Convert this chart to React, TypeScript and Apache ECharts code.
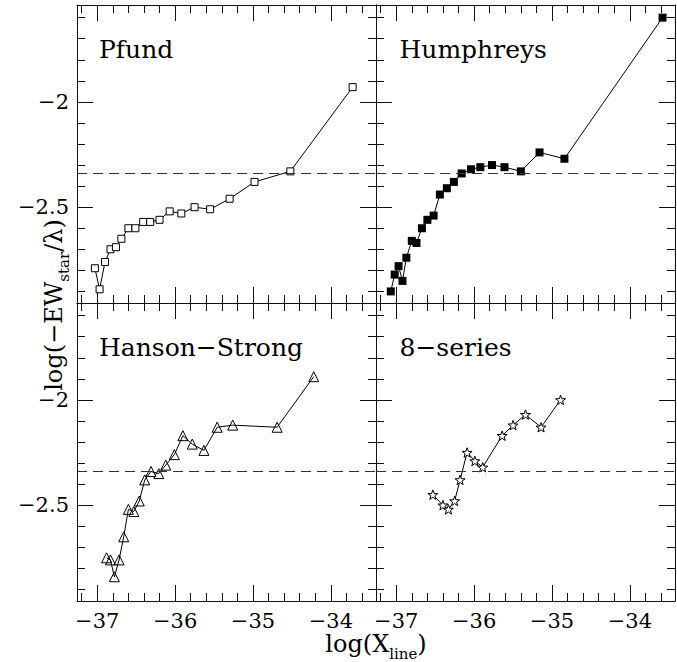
import React, { useEffect, useRef } from "react";
import * as echarts from "echarts";

// ---- data ----
const panelNames = ["Pfund", "Humphreys", "Hanson\u2212Strong", "8\u2212series"];

const pfundX = [-37.03, -36.97, -36.9, -36.83, -36.76, -36.69, -36.6, -36.51, -36.41, -36.32, -36.2, -36.07, -35.92, -35.75, -35.55, -35.3, -34.98, -34.52, -33.72];
const pfundY = [-2.79, -2.89, -2.76, -2.7, -2.69, -2.65, -2.6, -2.6, -2.57, -2.57, -2.56, -2.52, -2.53, -2.5, -2.51, -2.46, -2.38, -2.33, -1.93];

const humphreysX = [-37.07, -37.02, -36.97, -36.92, -36.87, -36.8, -36.74, -36.67, -36.6, -36.52, -36.44, -36.35, -36.26, -36.16, -36.04, -35.92, -35.77, -35.61, -35.4, -35.16, -34.84, -33.58];
const humphreysY = [-2.9, -2.82, -2.78, -2.85, -2.74, -2.66, -2.67, -2.6, -2.56, -2.54, -2.44, -2.41, -2.38, -2.34, -2.32, -2.31, -2.3, -2.31, -2.33, -2.24, -2.27, -1.6];

const hansonX = [-36.88, -36.83, -36.78, -36.72, -36.66, -36.6, -36.53, -36.46, -36.39, -36.31, -36.21, -36.12, -36.01, -35.9, -35.78, -35.63, -35.46, -35.26, -34.69, -34.22];
const hansonY = [-2.75, -2.76, -2.84, -2.76, -2.65, -2.52, -2.53, -2.48, -2.38, -2.34, -2.35, -2.31, -2.26, -2.17, -2.21, -2.24, -2.13, -2.12, -2.13, -1.89];

const eightX = [-36.53, -36.4, -36.33, -36.25, -36.18, -36.09, -35.99, -35.89, -35.64, -35.5, -35.34, -35.14, -34.89];
const eightY = [-2.45, -2.5, -2.52, -2.48, -2.38, -2.25, -2.29, -2.32, -2.17, -2.12, -2.07, -2.13, -2.0];

const referenceLevel = -2.34;

const xMajorTicks = [-37, -36, -35, -34];
const yMajorTicks = [-2.5, -2];
const xMin = -37.26;
const xMax = -33.42;
const yMin = -2.955;
const yMax = -1.54;

const xMinorTicks: number[] = [];
for (let i = -186; i <= -168; i++) {
  if (i % 5 !== 0) xMinorTicks.push(Math.round(i * 2) / 10);
}
const yMinorTicks: number[] = [];
for (let i = -29; i <= -16; i++) {
  if (i % 5 !== 0) yMinorTicks.push(i / 10);
}

const panelData = [
  { x: pfundX, y: pfundY },
  { x: humphreysX, y: humphreysY },
  { x: hansonX, y: hansonY },
  { x: eightX, y: eightY },
];

const STAR =
  "path://M100,0 L123.5,67.6 L195.1,69.1 L138,112.4 L158.8,180.9 L100,140 L41.2,180.9 L62,112.4 L4.9,69.1 L76.5,67.6 Z";

const FONT = '"DejaVu Serif", "Liberation Serif", serif';
const INK = "#111";

const fmt = (v: number) => (v < 0 ? "\u2212" + String(Math.abs(v)) : String(v));

export default function App() {
  const ref = useRef<HTMLDivElement>(null);

  useEffect(() => {
    if (!ref.current) return;
    const chart = echarts.init(ref.current, undefined, { renderer: "svg" });

    const grids = [
      { left: 77, top: 5, width: 299, height: 298 },
      { left: 376, top: 5, width: 299, height: 298 },
      { left: 77, top: 303, width: 299, height: 298 },
      { left: 376, top: 303, width: 299, height: 298 },
    ];

    const xAxes: any[] = [];
    const yAxes: any[] = [];

    grids.forEach((_, g) => {
      const showX = g >= 2;
      const showY = g % 2 === 0;
      const mkX = (position: string, major: boolean, labels: boolean) => ({
        type: "value",
        gridIndex: g,
        position,
        min: xMin,
        max: xMax,
        axisLine: { show: major, onZero: false, lineStyle: { color: INK, width: 1 } },
        axisTick: {
          show: true,
          inside: true,
          length: major ? 16 : 8,
          customValues: major ? xMajorTicks : xMinorTicks,
          lineStyle: { color: INK, width: 1 },
        },
        axisLabel: {
          show: labels,
          customValues: xMajorTicks,
          formatter: fmt,
          fontFamily: FONT,
          fontSize: 21,
          color: "#000",
          margin: 9,
        },
        splitLine: { show: false },
      });
      const mkY = (position: string, major: boolean, labels: boolean) => ({
        type: "value",
        gridIndex: g,
        position,
        min: yMin,
        max: yMax,
        axisLine: { show: major, onZero: false, lineStyle: { color: INK, width: 1 } },
        axisTick: {
          show: true,
          inside: true,
          length: major ? 16 : 8,
          customValues: major ? yMajorTicks : yMinorTicks,
          lineStyle: { color: INK, width: 1 },
        },
        axisLabel: {
          show: labels,
          customValues: yMajorTicks,
          formatter: fmt,
          fontFamily: FONT,
          fontSize: 21,
          color: "#000",
          margin: 8,
        },
        splitLine: { show: false },
      });
      xAxes.push(mkX("bottom", true, showX));
      xAxes.push(mkX("bottom", false, false));
      xAxes.push(mkX("top", true, false));
      xAxes.push(mkX("top", false, false));
      yAxes.push(mkY("left", true, showY));
      yAxes.push(mkY("left", false, false));
      yAxes.push(mkY("right", true, false));
      yAxes.push(mkY("right", false, false));
    });

    const symbolStyles = [
      { symbol: "rect", symbolSize: 7, itemStyle: { color: "#fff", borderColor: "#000", borderWidth: 1 } },
      { symbol: "rect", symbolSize: 8, itemStyle: { color: "#000", borderColor: "#000", borderWidth: 0 } },
      { symbol: "triangle", symbolSize: 10, itemStyle: { color: "rgba(255,255,255,0)", borderColor: "#000", borderWidth: 1 } },
      { symbol: STAR, symbolSize: 10, itemStyle: { color: "#fff", borderColor: "#000", borderWidth: 1 } },
    ];

    const series = panelData.map((p, g) => ({
      type: "line",
      name: panelNames[g],
      xAxisIndex: g * 4,
      yAxisIndex: g * 4,
      data: p.x.map((xv, i) => [xv, p.y[i]]),
      symbol: symbolStyles[g].symbol,
      symbolSize: symbolStyles[g].symbolSize,
      symbolKeepAspect: true,
      showAllSymbol: true,
      itemStyle: symbolStyles[g].itemStyle,
      lineStyle: { color: "#000", width: 1 },
      markLine: {
        silent: true,
        symbol: ["none", "none"],
        label: { show: false },
        lineStyle: { color: "#333", width: 1, type: [10, 6] },
        data: [{ yAxis: referenceLevel }],
      },
      z: 3,
    }));

    const labelPos = [
      { x: 99, y: 49.5 },
      { x: 399.5, y: 49.5 },
      { x: 99, y: 347.5 },
      { x: 399.5, y: 347.5 },
    ];

    const graphic: any[] = panelNames.map((name, g) => ({
      type: "text",
      x: labelPos[g].x,
      y: labelPos[g].y,
      silent: true,
      style: {
        text: name,
        font: `25px ${FONT}`,
        fill: "#000",
        align: "left",
        verticalAlign: "middle",
      },
    }));

    graphic.push({
      type: "text",
      x: 376,
      y: 644,
      silent: true,
      style: {
        text: "{m|log(X}{s|line}{m|)}",
        align: "center",
        verticalAlign: "middle",
        fill: "#000",
        rich: {
          m: { fontFamily: FONT, fontSize: 24, lineHeight: 34, fill: "#000", color: "#000" },
          s: { fontFamily: FONT, fontSize: 15, lineHeight: 17, verticalAlign: "bottom", fill: "#000", color: "#000" },
        },
      },
    });

    graphic.push({
      type: "text",
      x: 54,
      y: 305,
      rotation: Math.PI / 2,
      silent: true,
      style: {
        text: "{m|log(\u2212EW}{s|star}{m|/\u03bb)}",
        align: "center",
        verticalAlign: "middle",
        fill: "#000",
        rich: {
          m: { fontFamily: FONT, fontSize: 24, lineHeight: 34, fill: "#000", color: "#000" },
          s: { fontFamily: FONT, fontSize: 15, lineHeight: 17, verticalAlign: "bottom", fill: "#000", color: "#000" },
        },
      },
    });

    chart.setOption({
      animation: false,
      backgroundColor: "#fff",
      grid: grids.map((gr) => ({ ...gr, containLabel: false })),
      xAxis: xAxes,
      yAxis: yAxes,
      series,
      graphic,
    });

    return () => chart.dispose();
  }, []);

  return (
    <div
      ref={ref}
      style={{ position: "fixed", left: 0, top: 0, width: 677, height: 662, background: "#fff" }}
    />
  );
}
